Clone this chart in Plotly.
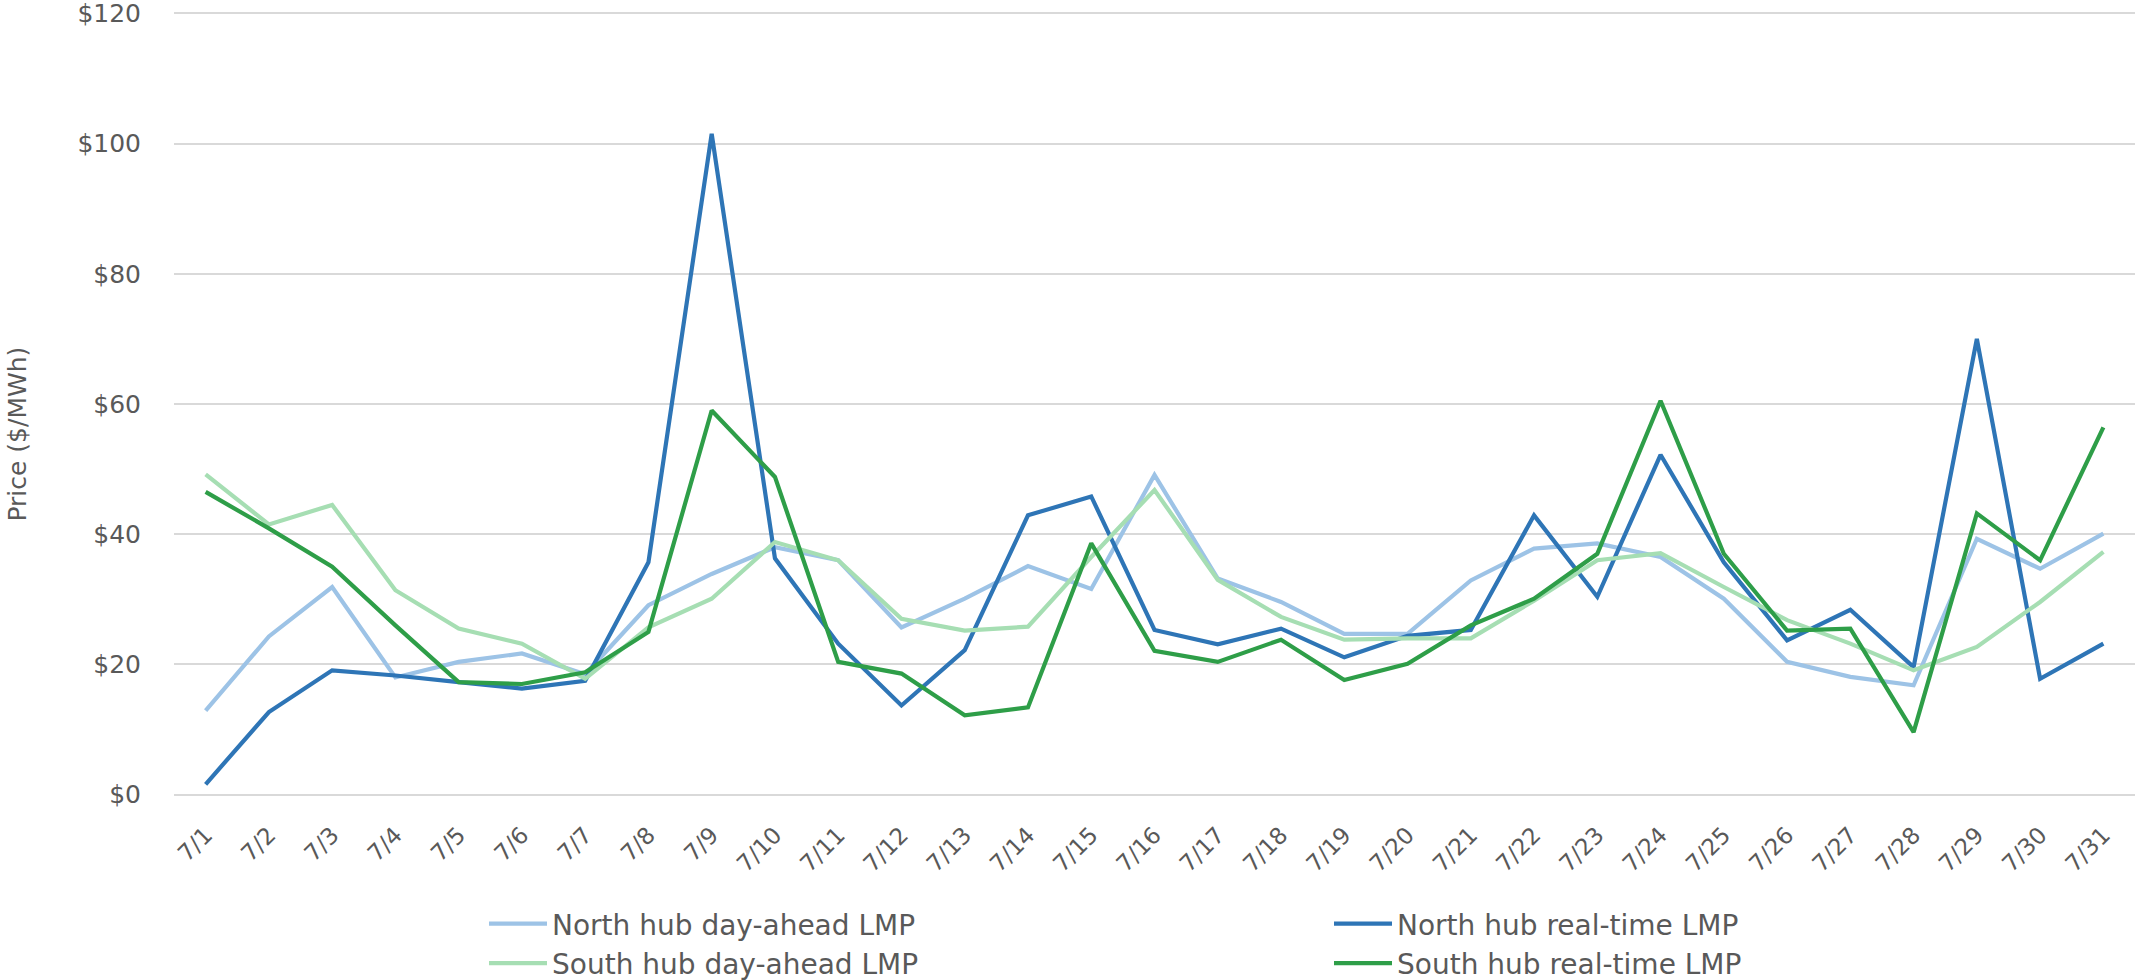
import plotly.graph_objects as go

# July daily average LMPs at the two hubs ($/MWh)
days = [f"7/{d}" for d in range(1, 32)]

north_da = [12.9, 24.3, 31.9, 18.0, 20.4, 21.7, 18.5, 29.1, 33.9, 38.0,
            36.0, 25.7, 30.1, 35.1, 31.6, 49.1, 33.2, 29.6, 24.7, 24.7,
            32.9, 37.8, 38.6, 36.5, 30.1, 20.4, 18.1, 16.8, 39.3, 34.7, 40.1]
north_rt = [1.6, 12.7, 19.1, 18.3, 17.3, 16.3, 17.5, 35.7, 101.5, 36.3,
            23.2, 13.7, 22.2, 42.9, 45.8, 25.3, 23.1, 25.5, 21.1, 24.4,
            25.3, 42.9, 30.4, 52.2, 35.7, 23.7, 28.4, 19.6, 70.0, 17.8, 23.2]
south_da = [49.2, 41.5, 44.5, 31.4, 25.5, 23.2, 17.8, 25.7, 30.1, 38.8,
            36.0, 27.0, 25.2, 25.8, 36.5, 46.8, 33.0, 27.3, 23.8, 24.0,
            24.0, 29.8, 36.0, 37.1, 31.9, 26.8, 23.2, 19.1, 22.7, 29.6, 37.3]
south_rt = [46.5, 40.9, 35.0, 26.0, 17.3, 17.0, 18.8, 25.0, 59.0, 48.8,
            20.4, 18.6, 12.2, 13.4, 38.6, 22.1, 20.4, 23.8, 17.6, 20.1,
            26.0, 30.1, 37.0, 60.5, 37.0, 25.2, 25.5, 9.6, 43.2, 36.0, 56.4]

series = [
    ("North hub day-ahead LMP", north_da, "#9DC3E6"),
    ("North hub real-time LMP", north_rt, "#2E75B6"),
    ("South hub day-ahead LMP", south_da, "#A6DEB3"),
    ("South hub real-time LMP", south_rt, "#2E9E48"),
]

y_ticks = [0, 20, 40, 60, 80, 100, 120]
y_tick_text = [f"${v}" for v in y_ticks]

FONT = "DejaVu Sans"
GREY = "#595959"

fig = go.Figure()
for name, vals, color in series:
    fig.add_trace(go.Scatter(
        x=days, y=vals, name=name, mode="lines",
        line=dict(color=color, width=4.2),
    ))

W, H = 2146, 980
fig.update_layout(
    width=W, height=H,
    margin=dict(l=174, r=11, t=12, b=184),
    paper_bgcolor="white", plot_bgcolor="white",
    font=dict(family=FONT, color=GREY),
    showlegend=True,
    legend=dict(
        orientation="h",
        xref="container", yref="container",
        x=484 / W, y=1 - 899 / H,
        xanchor="left", yanchor="top",
        entrywidth=772, entrywidthmode="pixels",
        itemwidth=58,
        font=dict(family=FONT, size=28, color=GREY),
        bgcolor="rgba(0,0,0,0)",
        tracegroupgap=0,
    ),
    xaxis=dict(
        type="category",
        range=[-0.5, len(days) - 0.5],
        tickangle=-45,
        tickfont=dict(family=FONT, size=23, color=GREY),
        showgrid=False, zeroline=False, showline=False,
        ticks="", ticklabelstandoff=20,
        automargin=False,
    ),
    yaxis=dict(
        range=[-0.2, 120.2],
        tickvals=y_ticks, ticktext=y_tick_text,
        tickfont=dict(family=FONT, size=25, color=GREY),
        ticklabeloverflow="allow",
        showgrid=True, gridcolor="#D9D9D9", gridwidth=2,
        zeroline=False, showline=False,
        ticks="", ticklabelstandoff=32,
        automargin=False,
    ),
    annotations=[dict(
        text="Price ($/MWh)", textangle=-90,
        xref="paper", yref="paper",
        x=-(174 - 18) / 1961, y=(794 - 434) / 781,
        xanchor="center", yanchor="middle", showarrow=False,
        font=dict(family=FONT, size=25, color=GREY),
    )],
)

fig.write_html("out.html")
